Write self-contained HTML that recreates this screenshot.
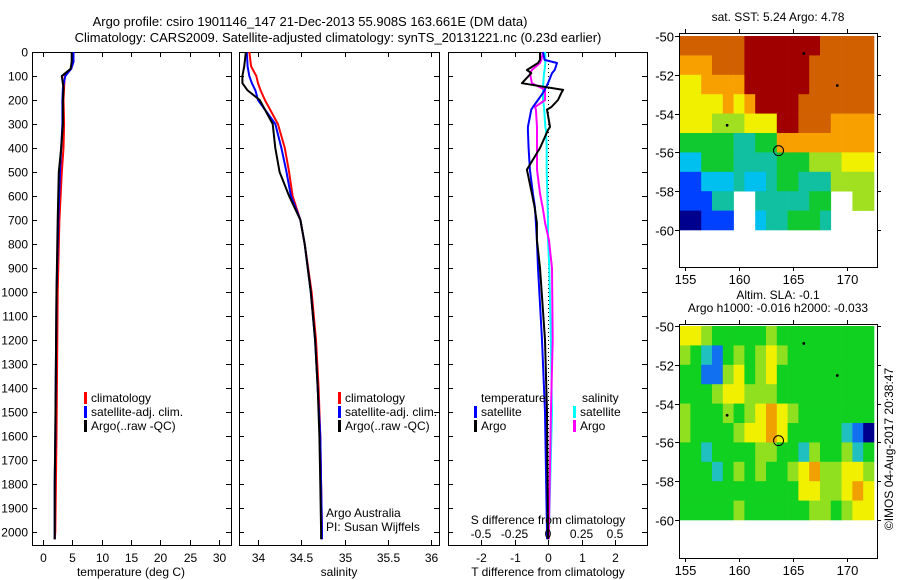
<!DOCTYPE html>
<html><head><meta charset="utf-8"><style>
body{margin:0;background:#fff;}
svg{display:block;font-family:"Liberation Sans",sans-serif;font-size:12px;}
</style></head><body>
<svg id="fig" width="900" height="580"></svg>
<script>
// ---- profile data ----
const tDepth=[0,40,70,100,150,200,300,400,500,700,1000,1300,1600,1800,2000,2030];
const tArgo=[4.9,4.9,4.7,3.2,3.5,3.4,3.4,3.1,2.7,2.5,2.3,2.2,2.1,2.0,2.0,2.0];
const tClim=[5.2,5.2,4.8,3.7,3.6,3.5,3.6,3.5,3.2,2.8,2.5,2.4,2.3,2.2,2.1,2.0];
const tSat=[5.2,5.2,4.8,3.8,3.4,3.3,3.3,3.1,2.9,2.6,2.3,2.2,2.1,2.0,2.0,2.0];
const sDepth=[0,60,100,130,160,200,300,400,500,600,700,800,1000,1200,1400,1600,1800,2000,2030];
const sArgo=[33.86,33.84,33.82,33.82,33.88,34.02,34.17,34.2,34.25,34.36,34.49,34.54,34.61,34.66,34.69,34.71,34.72,34.73,34.73];
const sClim=[33.9,33.92,33.98,34.0,34.03,34.08,34.23,34.31,34.36,34.4,34.49,34.54,34.62,34.67,34.7,34.72,34.73,34.74,34.74];
const sSat=[33.87,33.88,33.9,33.93,33.97,34.0,34.2,34.27,34.33,34.38,34.49,34.54,34.61,34.66,34.69,34.72,34.73,34.74,34.74];
const dDepth=[0,33,46,75,88,130,158,170,200,229,240,312,325,400,490,590,646,712,783,900,1200,1500,2000,2030];
const dtArgo=[-0.24,-0.24,-0.3,-0.63,-0.5,-0.78,0.45,0.4,0.3,0.1,-0.03,0.06,0.0,-0.24,-0.63,-0.48,-0.4,-0.33,-0.33,-0.24,-0.09,-0.03,0.0,0.0];
const dtSat=[-0.15,-0.1,0.27,0.2,0.12,0.0,-0.1,-0.15,-0.3,-0.45,-0.5,-0.6,-0.6,-0.58,-0.54,-0.45,-0.39,-0.36,-0.33,-0.3,-0.18,-0.09,-0.03,-0.03];
const dsArgo=[-0.037,-0.05,-0.06,-0.12,-0.134,-0.12,-0.022,-0.022,-0.022,-0.097,-0.09,-0.082,-0.082,-0.082,-0.082,-0.06,-0.04,-0.022,0.007,0.03,0.035,0.022,0.007,0.007];
const dsSat=[-0.022,-0.02,-0.02,-0.025,-0.03,-0.035,-0.037,-0.037,-0.037,-0.03,-0.028,-0.02,-0.015,-0.01,-0.01,-0.005,-0.002,0.0,0.0,0.01,0.022,0.03,0.007,0.007];
const depthTicks=[0,100,200,300,400,500,600,700,800,900,1000,1100,1200,1300,1400,1500,1600,1700,1800,1900,2000];
const tTicks=[0,5,10,15,20,25,30];
const sTicks=[34,34.5,35,35.5,36];
const sTickLabels=["34","34.5","35","35.5","36"];
const dtTicks=[-2,-1,0,1,2];
const dsTicks=[-0.5,-0.25,0,0.25,0.5];
// ---- map data (1-degree cells, lon 154.5..172.5, lat -50..-60) ----
const mapLon0=154.5;
const sstGrid=[
[8,8,8,8,8,8,9,9,9,9,9,9,9,8,8,8,8,8],
[7,7,7,8,8,8,9,9,9,9,9,9,8,8,8,8,8,8],
[6,6,7,7,7,7,9,9,9,9,9,9,8,8,8,8,8,8],
[6,6,6,6,7,6,7,9,9,9,9,8,8,8,8,8,8,8],
[6,6,6,5,5,5,6,6,6,9,9,8,8,8,7,7,7,7],
[4,4,4,4,4,3,3,4,4,7,7,7,7,7,7,7,7,7],
[2,2,4,4,4,3,3,3,3,4,4,4,5,5,5,6,6,6],
[1,1,2,2,2,3,2,2,3,4,4,3,3,3,5,5,5,5],
[1,1,1,3,3,null,null,3,3,3,3,3,4,4,null,null,5,5],
[0,0,1,1,1,null,null,2,3,3,4,4,4,3,null,null,null,null]];
const slaGrid=[
[5,5,4,3,3,3,3,3,4,3,3,3,3,3,3,3,3,3],
[4,3,2,1,3,4,3,4,5,4,3,3,3,3,3,3,3,3],
[3,3,1,1,4,5,3,4,5,3,3,3,3,3,3,3,3,3],
[3,3,3,4,5,5,4,4,4,3,3,3,3,3,3,3,3,3],
[4,3,3,3,4,3,4,5,6,5,4,3,3,3,3,3,3,3],
[4,3,3,3,3,4,5,5,6,5,3,3,3,3,3,2,1,0],
[3,3,2,3,3,3,3,4,4,3,3,2,4,3,3,4,2,3],
[3,3,3,2,3,4,3,4,3,3,4,5,6,4,4,5,5,4],
[3,3,3,3,3,3,3,3,3,3,3,5,5,4,4,5,6,5],
[3,3,3,3,3,4,3,3,3,3,3,3,4,4,3,4,5,5]];
const islandsLon=[166.0,169.1,158.9];
const islandsLat=[-50.9,-52.55,-54.6];
const argoLon=163.66, argoLat=-55.91;
const lonTicks=[155,160,165,170];
const latTicks=[-50,-52,-54,-56,-58,-60];

const NS="http://www.w3.org/2000/svg";
const svg=document.getElementById('fig');
function el(tag,attrs,parent){const e=document.createElementNS(NS,tag);for(const k in attrs)e.setAttribute(k,attrs[k]);(parent||svg).appendChild(e);return e;}
function txt(x,y,s,anchor,extra){const t=el('text',Object.assign({x:x,y:y,'text-anchor':anchor||'start',fill:'#000'},extra||{}));t.textContent=s;return t;}

let t1=txt(310,26,"Argo profile: csiro 1901146_147 21-Dec-2013 55.908S 163.661E (DM data)","middle",{'font-size':'13'});


let t2=txt(338,42,"Climatology: CARS2009. Satellite-adjusted climatology: synTS_20131221.nc (0.23d earlier)","middle",{'font-size':'13'});



const Y0=52, PXM=0.24, BOT=545;
const yD=d=>Y0+d*PXM;

function panel(name,L,R,xs,ticks,tickLabels,showDepth){
  const g=el('g',{});
  
  
  el('rect',{x:L+0.5,y:Y0+0.5,width:R-L,height:BOT-Y0,fill:'#fff',stroke:'#000','stroke-width':1},g);
  ticks.forEach((v,i)=>{const x=Math.round(xs(v))+0.5;
    el('line',{x1:x,x2:x,y1:Y0,y2:Y0+5,stroke:'#000'},g);
    el('line',{x1:x,x2:x,y1:BOT,y2:BOT-5,stroke:'#000'},g);
    if(tickLabels){const t=txt(x,562,tickLabels[i],'middle');g.appendChild(t);}
  });
  depthTicks.forEach(d=>{const y=Math.round(yD(d))+0.5;
    el('line',{x1:L,x2:L+5,y1:y,y2:y,stroke:'#000'},g);
    el('line',{x1:R,x2:R-5,y1:y,y2:y,stroke:'#000'},g);
    if(showDepth){const t=txt(28,y+4,String(d),'end');g.appendChild(t);}
  });
  return g;
}
function line(g,xs,xv,dv,color,name){
  const pts=xv.map((v,i)=>xs(v).toFixed(1)+','+yD(dv[i]).toFixed(1)).join(' ');
  const p=el('polyline',{points:pts,fill:'none',stroke:color,'stroke-width':2,'stroke-linejoin':'round'},g);
  
  
}
function legendEntry(g,x,y,color,label,name){
  const r=el('rect',{x:x,y:y-10,width:3,height:12,fill:color},g);
  const t=txt(x+7,y,label);g.appendChild(t);
  const gg=el('g',{},g);gg.appendChild(r);gg.appendChild(t);
  
  
}
const xT=v=>43+v*(219-43)/30;
const g1=panel('temperature-panel',32,231,xT,tTicks,tTicks.map(String),true);
line(g1,xT,tClim,tDepth,'#f00','temp-climatology-line');
line(g1,xT,tSat,tDepth,'#00f','temp-satellite-line');
line(g1,xT,tArgo,tDepth,'#000','temp-argo-line');
g1.appendChild(txt(131,576,"temperature (deg C)","middle"));
legendEntry(g1,84,402,'#f00','climatology','legend-climatology');
legendEntry(g1,84,416,'#00f','satellite-adj. clim.','legend-satellite');
legendEntry(g1,84,430,'#000','Argo(..raw -QC)','legend-argo');

const xS=v=>258+(v-34)*86.5;
const g2=panel('salinity-panel',239,439,xS,sTicks,sTickLabels,false);
line(g2,xS,sClim,sDepth,'#f00','sal-climatology-line');
line(g2,xS,sSat,sDepth,'#00f','sal-satellite-line');
line(g2,xS,sArgo,sDepth,'#000','sal-argo-line');
g2.appendChild(txt(339,576,"salinity","middle"));
legendEntry(g2,338,402,'#f00','climatology','legend-sal-climatology');
legendEntry(g2,338,416,'#00f','satellite-adj. clim.','legend-sal-satellite');
legendEntry(g2,338,430,'#000','Argo(..raw -QC)','legend-sal-argo');
g2.appendChild(txt(326,517,"Argo Australia"));
g2.appendChild(txt(326,531,"PI: Susan Wijffels"));

const xDT=v=>548+v*33.5;
const xDS=v=>548+v*134;
const g3=panel('difference-panel',448,647,xDT,dtTicks,dtTicks.map(String),false);
dsTicks.forEach(v=>{const x=Math.round(xDS(v))+0.5;el('line',{x1:x,x2:x,y1:BOT,y2:BOT-5,stroke:'#000'},g3);});
el('line',{x1:548.5,x2:548.5,y1:Y0,y2:BOT,stroke:'#000','stroke-dasharray':'1,3'},g3);
line(g3,xDS,dsSat,dDepth,'#0ff','sdiff-satellite-line');
line(g3,xDS,dsArgo,dDepth,'#f0f','sdiff-argo-line');
line(g3,xDT,dtSat,dDepth,'#00f','tdiff-satellite-line');
line(g3,xDT,dtArgo,dDepth,'#000','tdiff-argo-line');
g3.appendChild(txt(548,524,"S difference from climatology","middle"));
["-0.5","-0.25","0","0.25","0.5"].forEach((s,i)=>g3.appendChild(txt(xDS(dsTicks[i]),538,s,"middle")));
g3.appendChild(txt(548,576,"T difference from climatology","middle"));
g3.appendChild(txt(481,402,"temperature"));
g3.appendChild(txt(582,402,"salinity"));
legendEntry(g3,474,416,'#00f','satellite','legend-tdiff-satellite');
legendEntry(g3,474,430,'#000','Argo','legend-tdiff-argo');
legendEntry(g3,573,416,'#0ff','satellite','legend-sdiff-satellite');
legendEntry(g3,573,430,'#f0f','Argo','legend-sdiff-argo');

const sstColors=['#00008f','#0040ff','#00c0f0','#10c0a0','#10c830','#a0e020','#f0f000','#f8a000','#d06000','#a00000'];
const slaColors=['#00008f','#1070f0','#20c0c0','#10d020','#90e020','#f0f000','#f0a000'];
function map(name,top,latTop,grid,colors,titles){
  const g=el('g',{});
  
  
  const L=679,R=877,B=top+234;
  const xL=lon=>685+(lon-155)*10.8;
  const yL=lat=>latTop+(-50-lat)*19.4;
  el('rect',{x:L,y:top,width:R-L,height:B-top,fill:'#fff'},g);
  grid.forEach((row,r)=>row.forEach((v,c)=>{
    if(v===null)return;
    const lon=mapLon0+c, lat=-50-r;
    const x0=Math.max(L,xL(lon)), x1=Math.min(R,xL(lon+1));
    el('rect',{x:x0,y:yL(lat),width:x1-x0+0.3,height:19.7,fill:colors[v]},g);
  }));
  islandsLon.forEach((lo,i)=>el('circle',{cx:xL(lo),cy:yL(islandsLat[i]),r:1.4,fill:'#000'},g));
  const c=el('circle',{cx:xL(argoLon),cy:yL(argoLat),r:5,fill:'none',stroke:'#000','stroke-width':1},g);
  
  
  el('rect',{x:L+0.5,y:top+0.5,width:R-L,height:B-top,fill:'none',stroke:'#000'},g);
  lonTicks.forEach(lo=>{const x=Math.round(xL(lo))+0.5;
    el('line',{x1:x,x2:x,y1:top,y2:top-4,stroke:'#000'},g);
    el('line',{x1:x,x2:x,y1:B,y2:B+4,stroke:'#000'},g);
    g.appendChild(txt(x,B+17,String(lo),'middle',{'font-size':'13'}));});
  latTicks.forEach(la=>{const y=Math.round(yL(la))+0.5;
    el('line',{x1:L,x2:L-4,y1:y,y2:y,stroke:'#000'},g);
    el('line',{x1:R,x2:R+4,y1:y,y2:y,stroke:'#000'},g);
    g.appendChild(txt(674,y+5,String(la),'end',{'font-size':'13'}));});
  titles.forEach((s,i)=>g.appendChild(txt(778,top-(titles.length-i)*13+1,s,'middle')));
}
map('sst-map',33,36,sstGrid,sstColors,["sat. SST: 5.24 Argo: 4.78"]);
map('sla-map',324,326,slaGrid,slaColors,["Altim. SLA: -0.1","Argo h1000: -0.016 h2000: -0.033"]);
const cr=txt(0,0,"©IMOS 04-Aug-2017 20:38:47","middle",{transform:"translate(893,449) rotate(-90)"});


</script>
</body></html>
